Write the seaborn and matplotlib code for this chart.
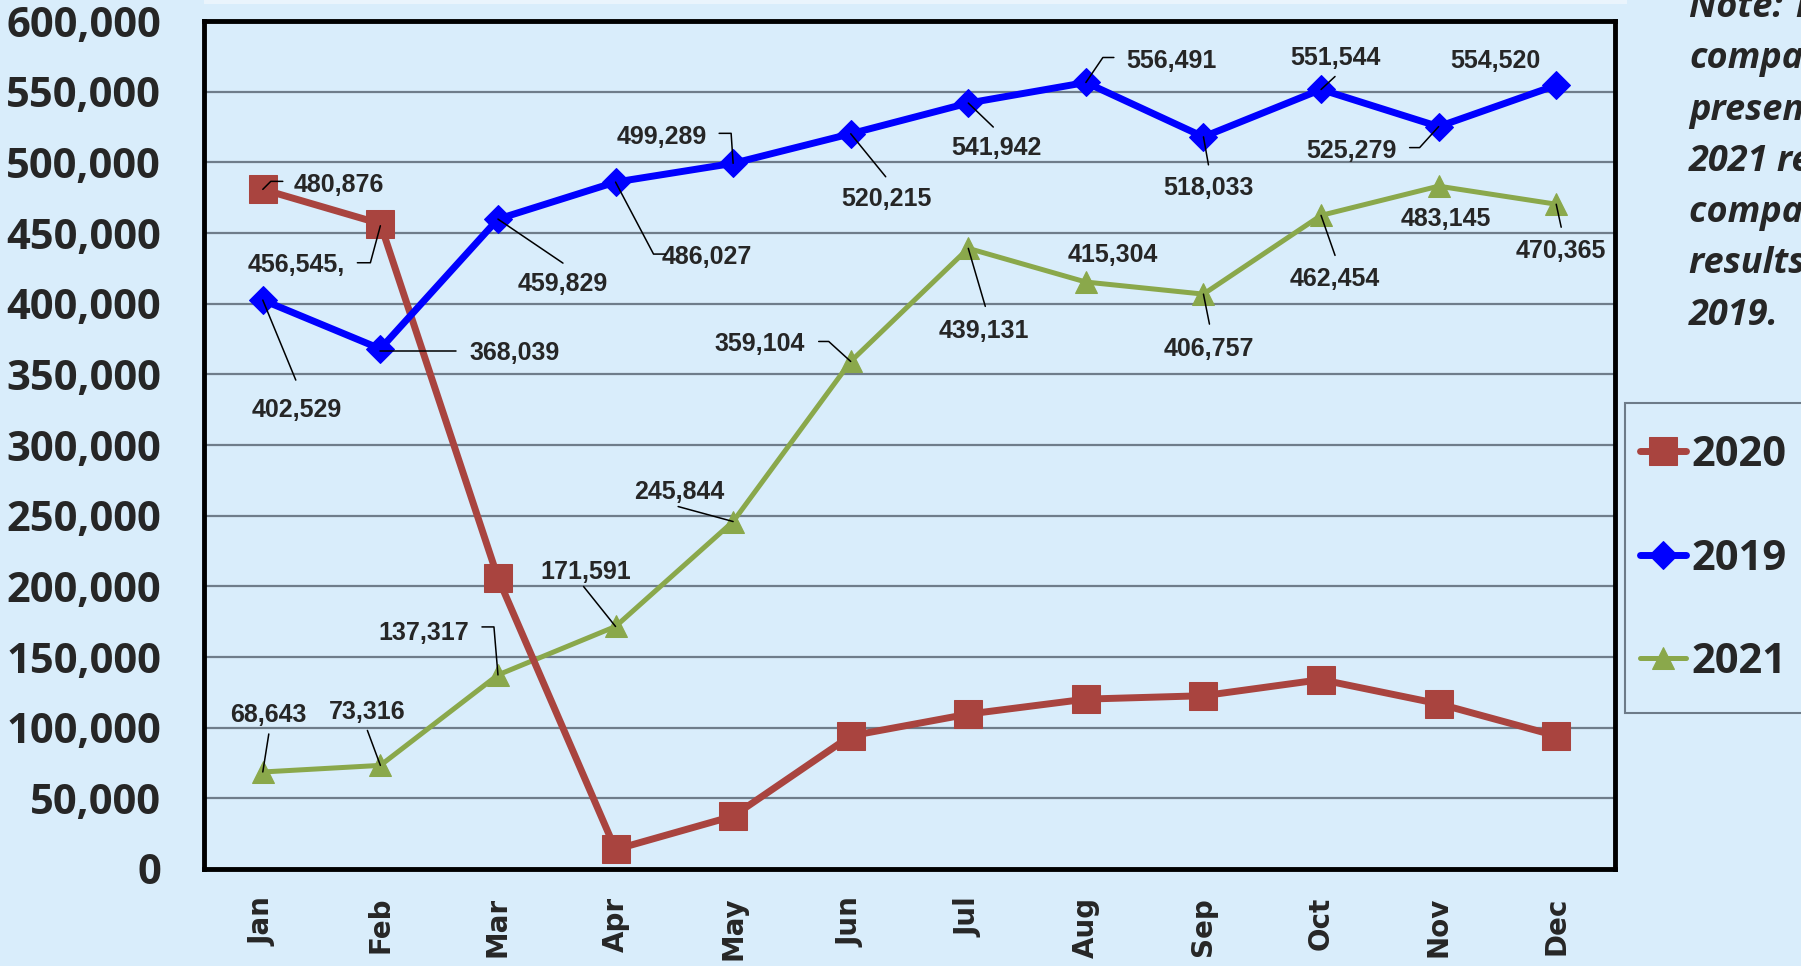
import numpy as np
import pandas as pd
import seaborn as sns
import matplotlib.pyplot as plt
from matplotlib.lines import Line2D
from matplotlib.patches import Rectangle
from matplotlib.transforms import IdentityTransform

# data
months = ['Jan', 'Feb', 'Mar', 'Apr', 'May', 'Jun', 'Jul', 'Aug', 'Sep', 'Oct', 'Nov', 'Dec']
y2020 = [480876, 456545, 206000, 13800, 37400, 94200, 109600, 120200, 122600, 134000, 116900, 94200]
y2019 = [402529, 368039, 459829, 486027, 499289, 520215, 541942, 556491, 518033, 551544, 525279, 554520]
y2021 = [68643, 73316, 137317, 171591, 245844, 359104, 439131, 415304, 406757, 462454, 483145, 470365]
labels2020 = ['480,876', '456,545,']  # only the first two points carry a label
yticks = np.arange(0, 600001, 50000)

note_lines = ['Note: The', 'comparison', 'presents', '2021 results', 'compared to', 'results of', '2019.']

# label placement (pixels from the point) and leader lines
off2019 = [(34, -110), (134, -4), (65, -65), (91, -75), (-71, 26), (36, -65),
           (28, -45), (86, 21), (5, -51), (14, 31), (-87, -24), (-61, 24)]
lead2019 = [[(0, 0), (33, -80)], [(0, -2), (76, -2)], [(0, 0), (65, -44)],
            [(0, 0), (38, -72), (50, -72)], [(0, 0), (-2, 30), (-14, 30)],
            [(0, 0), (35, -43)], [(0, 0), (25, -24)], [(0, 0), (17, 25), (28, 25)],
            [(0, 0), (5, -28)], [(0, 0), (14, 13)], [(0, 0), (-19, -21), (-29, -21)], None]
off2021 = [(6, 57), (-13, 53), (-74, 42), (-30, 54), (-54, 30), (-91, 17),
           (16, -83), (27, 27), (5, -55), (14, -64), (7, -33), (5, -47)]
lead2021 = [[(0, 0), (6, 38)], [(0, 0), (-13, 35)], [(0, 0), (-4, 48), (-16, 48)],
            [(0, 0), (-32, 40)], [(0, 0), (-55, 15)], [(0, 0), (-22, 20), (-32, 20)],
            [(0, 0), (17, -58)], None, [(0, 0), (6, -30)], [(0, 0), (14, -40)], None,
            [(0, 0), (5, -23)]]
off2020 = [(76, 4), (-84, -41)]
lead2020 = [[(0, 0), (8, 8), (20, 8)], [(0, -2), (-10, -39), (-23, -39)]]

bg = '#d9edfb'
red = '#a9443f'
blue = '#0000ff'
green = '#8aa84b'

sns.set_theme(style='white', rc={'figure.facecolor': bg, 'axes.facecolor': bg})
plt.rcParams['font.family'] = ['Liberation Sans', 'DejaVu Sans']

df = pd.DataFrame({'month': months, 'pos': np.arange(12),
                   '2020': y2020, '2019': y2019, '2021': y2021})

W, H = 1801, 966
fig = plt.figure(figsize=(W / 100, H / 100), dpi=100)
ax = fig.add_axes([204 / W, 1 - 869 / H, (1615 - 204) / W, (869 - 21) / H])

sns.lineplot(data=df, x='pos', y='2021', ax=ax, color=green, lw=3.6, marker='^',
             markersize=16, markeredgecolor=green, sort=False, zorder=3, label='2021')
sns.lineplot(data=df, x='pos', y='2020', ax=ax, color=red, lw=5, marker='s',
             markersize=20, markeredgecolor=red, sort=False, zorder=4, label='2020')
sns.lineplot(data=df, x='pos', y='2019', ax=ax, color=blue, lw=5, marker='D',
             markersize=14, markeredgecolor=blue, sort=False, zorder=5, label='2019')
ax.get_legend().remove()

ax.set_xlim(-0.5, 11.5)
ax.set_ylim(0, 600000)
ax.set_xlabel('')
ax.set_ylabel('')
ax.set_yticks(yticks)
ax.set_yticklabels([f'{v:,}' for v in yticks], family='Open Sans', fontweight='bold', fontsize=30)
ax.set_xticks(np.arange(12))
ax.set_xticklabels(months, family='DejaVu Sans', fontweight='bold', fontsize=20, rotation=90)
ax.set_xticks(np.arange(-0.5, 12, 1), minor=True)
ax.tick_params(axis='x', which='major', length=0, pad=20)
ax.tick_params(axis='x', which='minor', direction='in', length=7, width=1.2, color='#6f7d8a')
ax.tick_params(axis='y', direction='in', length=10, width=1.5, color='#4a5560', pad=31)
ax.yaxis.grid(True, color='#6f7d8a', lw=1.6)
ax.set_axisbelow(True)
for s in ax.spines.values():
    s.set_color('black')
    s.set_linewidth(3.5)

fig.canvas.draw()


def label_series(vals, idx, texts, offs, leads):
    for i, t, (dx, dy), ld in zip(idx, texts, offs, leads):
        ax.annotate(t, xy=(i, vals[i]), xytext=(dx, dy), textcoords='offset pixels',
                    ha='center', va='center', fontsize=18, fontweight='bold', zorder=6)
        if ld is None:
            continue
        px, py = ax.transData.transform((i, vals[i]))
        fig.add_artist(Line2D([px + a for a, b in ld], [py + b for a, b in ld],
                              color='black', lw=1.1, transform=IdentityTransform(), zorder=6))


label_series(y2019, range(12), [f'{v:,}' for v in y2019], off2019, lead2019)
label_series(y2021, range(12), [f'{v:,}' for v in y2021], off2021, lead2021)
label_series(y2020, range(2), labels2020, off2020, lead2020)

# legend box, cut by the right edge
fig.add_artist(Rectangle((1625, H - 713), 200, 310, transform=IdentityTransform(),
                         facecolor=bg, edgecolor='#6d7b88', lw=1.5, zorder=1))
handles = {l.get_label(): l for l in ax.get_lines()}
order = ['2020', '2019', '2021']
leg = fig.legend([handles[k] for k in order], order, loc='center left',
                 bbox_to_anchor=(1619 / W, 1 - 559 / H), frameon=False,
                 prop={'family': 'Open Sans', 'weight': 'bold', 'size': 30},
                 handlelength=1.1, handletextpad=0.15, labelspacing=1.5, borderpad=0)
leg.set_zorder(2)

# faint strip at the top
fig.add_artist(Rectangle((204, H - 4), 1423, 4, transform=IdentityTransform(),
                         facecolor='#eaf4fc', edgecolor='none'))

for k, line in enumerate(note_lines):
    fig.text(1689 / W, 1 - (8 + 51.3 * k) / H, line, family='Open Sans', fontweight='bold',
             style='italic', fontsize=26, va='center', ha='left')

fig.savefig('out.png', dpi=100, facecolor=bg)
